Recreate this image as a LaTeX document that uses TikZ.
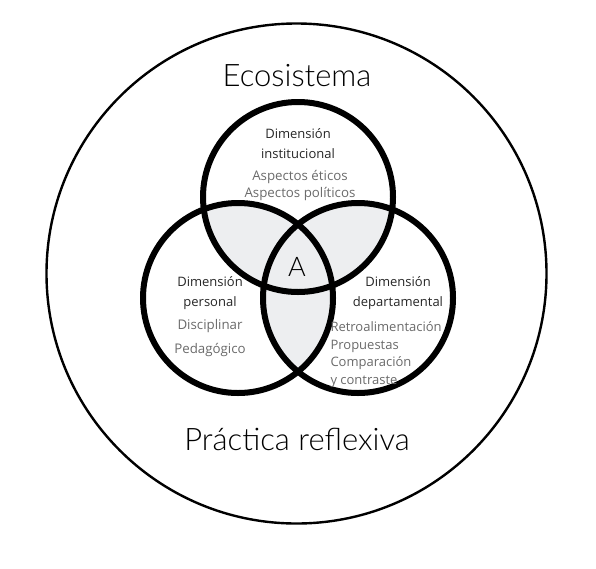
\documentclass[tikz,border=0pt]{standalone}
\usepackage{fontspec}
\setmainfont{Open Sans}
\newfontfamily\lightfont{Lato Light}
\definecolor{lensgray}{HTML}{EDEEF0}
\definecolor{subgray}{HTML}{6A6A6A}
\begin{document}
\begin{tikzpicture}[x=1pt,y=-1pt,
  bigring/.style={circle,draw=black,line width=2.4pt,inner sep=0pt,minimum size=500pt},
  ring/.style={circle,draw=black,line width=6pt,inner sep=0pt,minimum size=190pt},
  title/.style={font=\lightfont\fontsize{31}{35}\selectfont},
  head/.style={font=\fontsize{13}{20}\selectfont,align=center,text=black!85},
  sub/.style={font=\fontsize{13.3}{17}\selectfont,align=center,text=subgray},
  subl/.style={font=\fontsize{13}{17.5}\selectfont,align=left,text=subgray}]
\useasboundingbox (0,0) rectangle (596,568);
% lens fills
\begin{scope}
  \clip (298,197) circle (95);
  \fill[lensgray] (238,298) circle (95);
  \fill[lensgray] (358,298) circle (95);
\end{scope}
\begin{scope}
  \clip (238,298) circle (95);
  \fill[lensgray] (358,298) circle (95);
\end{scope}
\node[bigring] (eco) at (296.5,273.5) {};
\node[ring] (top) at (298,197) {};
\node[ring] (left) at (238,298) {};
\node[ring] (right) at (358,298) {};
\node[title] (ecot) at (297,76) {Ecosistema};
\node[title] (prac) at (297,439) {Práctica reflexiva};
\node[font=\lightfont\fontsize{27}{30}\selectfont] (a) at (297,267) {A};
\node[head] (inst) at (298,144) {Dimensión\\institucional};
\node[sub] (insts) at (300,185) {Aspectos éticos\\Aspectos políticos};
\node[head] (pers) at (210,293) {Dimensión\\personal};
\node[sub] (pers1) at (210,326) {Disciplinar};
\node[sub] (pers2) at (210,350) {Pedagógico};
\node[head] (dep) at (398,293) {Dimensión\\departamental};
\node[subl,anchor=north west] (deps) at (327,318) {Retroalimentación\\Propuestas\\Comparación\\y contraste};
\end{tikzpicture}
\end{document}
